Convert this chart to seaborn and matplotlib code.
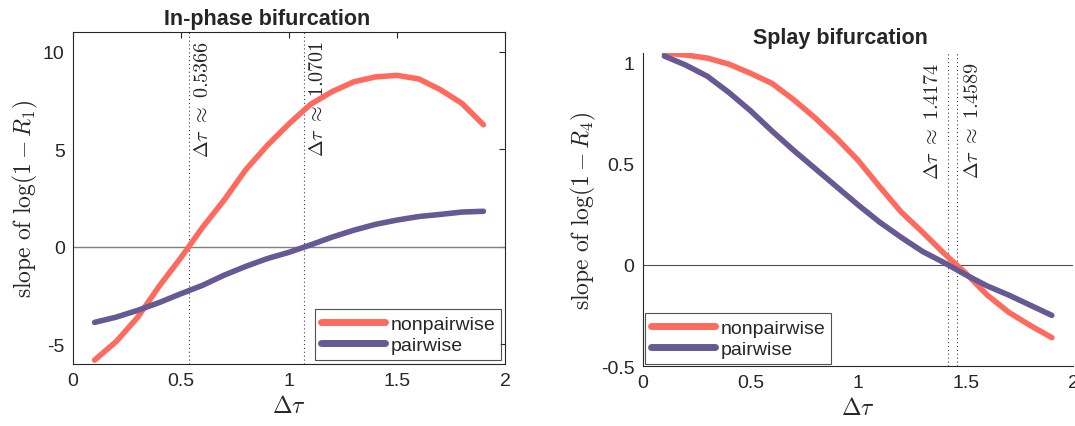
import matplotlib
matplotlib.use("Agg")
import matplotlib.pyplot as plt
import seaborn as sns
import pandas as pd

#%% DATA
dtau = [0.1, 0.2, 0.3, 0.4, 0.5, 0.6, 0.7, 0.8, 0.9, 1.0,
        1.1, 1.2, 1.3, 1.4, 1.5, 1.6, 1.7, 1.8, 1.9]

# in-phase bifurcation, slope of log(1 - R1)
inphase_nonpairwise = [-5.8, -4.85, -3.6, -2.0, -0.55, 1.0, 2.4, 3.95, 5.2, 6.3,
                       7.3, 7.95, 8.45, 8.7, 8.78, 8.6, 8.05, 7.35, 6.25]
inphase_pairwise = [-3.87, -3.6, -3.25, -2.85, -2.4, -1.97, -1.45, -1.0, -0.6, -0.28,
                    0.1, 0.5, 0.85, 1.15, 1.37, 1.55, 1.66, 1.78, 1.82]

# splay bifurcation, slope of log(1 - R4)
splay_nonpairwise = [1.045, 1.035, 1.02, 0.99, 0.945, 0.895, 0.815, 0.725, 0.625, 0.515,
                     0.385, 0.26, 0.16, 0.055, -0.042, -0.15, -0.235, -0.3, -0.36]
splay_pairwise = [1.03, 0.985, 0.93, 0.85, 0.76, 0.66, 0.565, 0.475, 0.385, 0.295,
                  0.21, 0.135, 0.065, 0.01, -0.05, -0.105, -0.15, -0.2, -0.25]

inphase_crit = [0.5366, 1.0701]
splay_crit = [1.4174, 1.4589]

#%% STYLE
sns.set_theme(style='white')
plt.rcParams['font.family'] = ['Liberation Sans', 'DejaVu Sans']
plt.rcParams['mathtext.fontset'] = 'cm'
plt.rcParams['axes.unicode_minus'] = False
plt.rcParams['axes.edgecolor'] = '#262626'
plt.rcParams['xtick.color'] = '#262626'
plt.rcParams['ytick.color'] = '#262626'

palette = {'nonpairwise': '#FF6A5E', 'pairwise': '#655A94'}


def long_table(nonpairwise, pairwise):
    return pd.DataFrame({
        'dtau': dtau + dtau,
        'slope': nonpairwise + pairwise,
        'model': ['nonpairwise'] * len(dtau) + ['pairwise'] * len(dtau),
    })


def style_legend(leg):
    leg.get_frame().set_edgecolor('#262626')
    leg.get_frame().set_linewidth(0.8)
    for line in leg.get_lines():
        line.set_linewidth(5)


fig = plt.figure(figsize=(10.75, 4.27), dpi=100)
ax1 = fig.add_axes([0.0679, 0.1452, 0.4019, 0.7775])
ax2 = fig.add_axes([0.598, 0.1405, 0.4005, 0.733])

#%% LEFT: in-phase
ax1.axhline(0, color='#808080', lw=1.0, zorder=1)
for c in inphase_crit:
    ax1.axvline(c, color='#404040', lw=0.8, ls=(0, (1, 2.5)), zorder=1)
    ax1.text(c + 0.02, 10.6, r'$\Delta\tau\ \approx\ %.4f$' % c, rotation=90,
             ha='left', va='top', fontsize=14.5, color='#262626')
sns.lineplot(data=long_table(inphase_nonpairwise, inphase_pairwise), x='dtau', y='slope',
             hue='model', palette=palette, lw=4, ax=ax1, zorder=3)
ax1.set_xlim(0, 2)
ax1.set_ylim(-6, 11)
ax1.set_xticks([0, 0.5, 1, 1.5, 2])
ax1.set_xticklabels(['0', '0.5', '1', '1.5', '2'])
ax1.set_yticks([-5, 0, 5, 10])
ax1.tick_params(direction='in', top=True, right=True, length=4, width=0.8,
                labelsize=14, pad=6)
for s in ax1.spines.values():
    s.set_linewidth(0.8)
ax1.set_title('In-phase bifurcation', fontsize=15.5, fontweight='bold', pad=6, x=0.45)
ax1.set_xlabel(r'$\Delta\tau$', fontsize=17, labelpad=4)
ax1.set_ylabel(r'$\mathrm{slope\ of\ }\log(1-R_1)$', fontsize=17, labelpad=2)
leg = ax1.legend(loc='lower right', fontsize=14, handlelength=3.3, frameon=True,
                 fancybox=False, borderaxespad=0.2, labelspacing=0.2,
                 handletextpad=0.3, borderpad=0.3)
style_legend(leg)

#%% RIGHT: splay
ax2.axhline(0, color='#505050', lw=0.8, zorder=1)
for c, side in zip(splay_crit, ['left', 'right']):
    ax2.axvline(c, color='#404040', lw=0.8, ls=(0, (1, 2.5)), zorder=1)
    dx = -0.03 if side == 'left' else 0.03
    ha = 'right' if side == 'left' else 'left'
    ax2.text(c + dx, 1.005, r'$\Delta\tau\ \approx\ %.4f$' % c, rotation=90,
             ha=ha, va='top', fontsize=14.5, color='#262626')
sns.lineplot(data=long_table(splay_nonpairwise, splay_pairwise), x='dtau', y='slope',
             hue='model', palette=palette, lw=4, ax=ax2, zorder=3)
ax2.set_xlim(0, 2)
ax2.set_ylim(-0.5, 1.045)
ax2.set_xticks([0, 0.5, 1, 1.5, 2])
ax2.set_xticklabels(['0', '0.5', '1', '1.5', '2'])
ax2.set_yticks([-0.5, 0, 0.5, 1])
ax2.set_yticklabels(['-0.5', '0', '0.5', '1'])
ax2.tick_params(direction='in', length=4, width=0.8, labelsize=14, pad=6)
ax2.spines['top'].set_visible(False)
ax2.spines['right'].set_visible(False)
for s in ax2.spines.values():
    s.set_linewidth(0.8)
ax2.set_title('Splay bifurcation', fontsize=15.5, fontweight='bold', pad=7, x=0.46)
ax2.set_xlabel(r'$\Delta\tau$', fontsize=17, labelpad=4)
ax2.set_ylabel(r'$\mathrm{slope\ of\ }\log(1-R_4)$', fontsize=17, labelpad=2)
leg = ax2.legend(loc='lower left', fontsize=14, handlelength=3.3, frameon=True,
                 fancybox=False, borderaxespad=0.1, labelspacing=0.2,
                 handletextpad=0.3, borderpad=0.3)
style_legend(leg)

fig.savefig('out.png', dpi=100)
